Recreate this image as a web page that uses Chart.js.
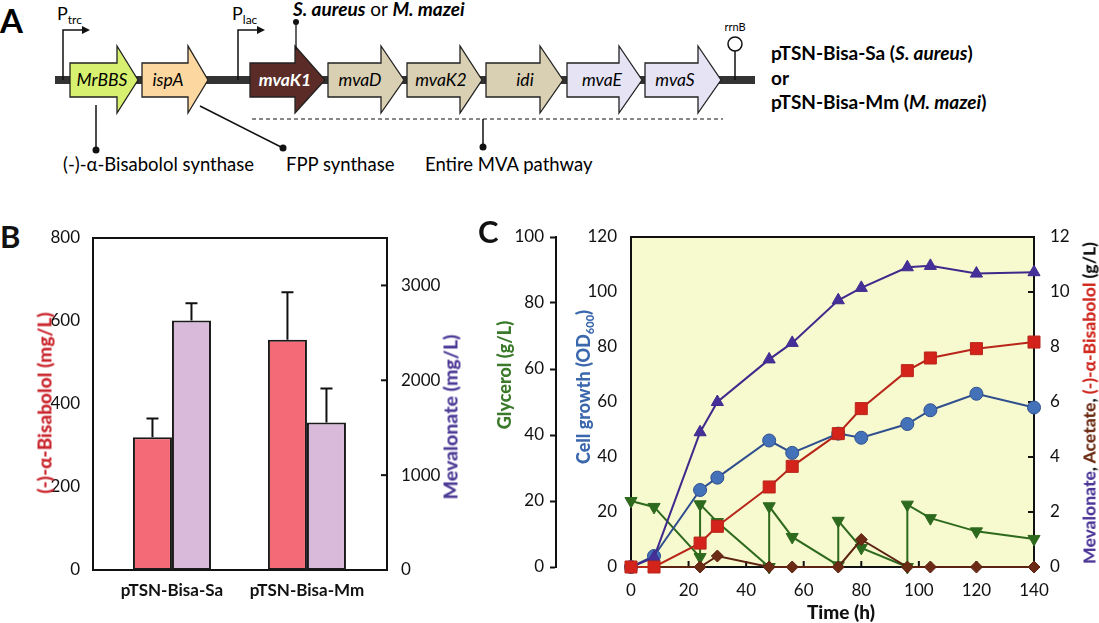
<!DOCTYPE html>
<html>
<head>
<meta charset="utf-8">
<script src="https://cdn.jsdelivr.net/npm/chart.js@4.4.1/dist/chart.umd.min.js"></script>
<style>
  body { margin: 0; background: #fff; }
  #page { position: relative; width: 1099px; height: 623px; overflow: hidden; font-family: Lato, "Noto Sans", sans-serif; color: #111; }
  .abs { position: absolute; }
  .panel { font-weight: bold; font-size: 31px; line-height: 1; }
  .vt { position: absolute; white-space: nowrap; font-weight: 900; font-size: 18px; transform: translate(-50%, -50%) rotate(-90deg); }
  .vt sub { font-size: 11px; }
  svg text { font-family: Lato, "Noto Sans", sans-serif; }
</style>
</head>
<body>
<div id="page">
  <!-- panel A: construct map -->
  <svg class="abs" style="left:0;top:0" width="1099" height="200">
    <text x="0" y="33" font-size="33" font-weight="bold">A</text>
    <rect x="55" y="76" width="700" height="8" fill="#333"/>
    <!-- promoters -->
    <polyline points="63,80 63,30 84,30" fill="none" stroke="#111" stroke-width="1.5"/>
    <polygon points="90,30 82,26 82,34" fill="#111"/>
    <text x="57" y="20" font-size="18">P<tspan font-size="12" dy="4">trc</tspan></text>
    <polyline points="238,80 238,30 259,30" fill="none" stroke="#111" stroke-width="1.5"/>
    <polygon points="265,30 257,26 257,34" fill="#111"/>
    <text x="232" y="20" font-size="18">P<tspan font-size="12" dy="4">lac</tspan></text>
    <!-- genes -->
    <g stroke="#222" stroke-width="1.3">
      <polygon points="70,63 117,63 117,46 138,80 117,113 117,97 70,97" fill="#d8f06f"/>
      <polygon points="142,63 188,63 188,46 208,80 188,113 188,97 142,97" fill="#fdd7a0"/>
      <polygon points="250,63 295,63 295,46 325,80 295,113 295,97 250,97" fill="#5a2b27"/>
      <polygon points="328,63 381,63 381,46 404,80 381,113 381,97 328,97" fill="#d9cfb3"/>
      <polygon points="407,63 460,63 460,46 482,80 460,113 460,97 407,97" fill="#d9cfb3"/>
      <polygon points="486,63 540,63 540,46 563,80 540,113 540,97 486,97" fill="#d9cfb3"/>
      <polygon points="567,63 619,63 619,46 642,80 619,113 619,97 567,97" fill="#e6e3f4"/>
      <polygon points="645,63 698,63 698,46 721,80 698,113 698,97 645,97" fill="#e6e3f4"/>
    </g>
    <g font-size="17.5" font-style="italic" text-anchor="middle">
      <text x="102" y="86">MrBBS</text>
      <text x="168" y="86">ispA</text>
      <text x="285" y="86" font-weight="bold" fill="#fff">mvaK1</text>
      <text x="360" y="86">mvaD</text>
      <text x="441" y="86">mvaK2</text>
      <text x="525" y="86">idi</text>
      <text x="602" y="86">mvaE</text>
      <text x="675" y="86">mvaS</text>
    </g>
    <!-- terminator -->
    <line x1="735" y1="51" x2="735" y2="80" stroke="#111" stroke-width="1.5"/>
    <circle cx="735" cy="44" r="7" fill="#fff" stroke="#111" stroke-width="1.5"/>
    <text x="735" y="31" font-size="11" text-anchor="middle">rrnB</text>
    <!-- annotations -->
    <text x="293" y="16" font-size="19"><tspan font-weight="bold" font-style="italic">S. aureus</tspan> or <tspan font-weight="bold" font-style="italic">M. mazei</tspan></text>
    <line x1="296" y1="22" x2="296" y2="50" stroke="#111" stroke-width="1.3"/>
    <circle cx="296" cy="22" r="3" fill="#111"/>
    <line x1="96" y1="105" x2="96" y2="150" stroke="#111" stroke-width="1.5"/>
    <circle cx="96" cy="150" r="3.5" fill="#111"/>
    <line x1="200" y1="106" x2="283" y2="148" stroke="#111" stroke-width="1.5"/>
    <circle cx="283" cy="148" r="3.5" fill="#111"/>
    <line x1="252" y1="119" x2="723" y2="119" stroke="#111" stroke-width="1" stroke-dasharray="4 3"/>
    <line x1="483" y1="119" x2="483" y2="147" stroke="#111" stroke-width="1.5"/>
    <circle cx="483" cy="147" r="3.5" fill="#111"/>
    <g font-size="18.5">
      <text x="63" y="171">(-)-α-Bisabolol synthase</text>
      <text x="286" y="171">FPP synthase</text>
      <text x="425" y="171">Entire MVA pathway</text>
    </g>
    <g font-size="19" font-weight="bold">
      <text x="771" y="60">pTSN-Bisa-Sa (<tspan font-style="italic">S. aureus</tspan>)</text>
      <text x="771" y="85">or</text>
      <text x="771" y="109">pTSN-Bisa-Mm (<tspan font-style="italic">M. mazei</tspan>)</text>
    </g>
  </svg>

  <!-- panel B -->
  <div class="abs panel" style="left:0;top:221px">B</div>
  <canvas id="chartB" class="abs" style="left:0;top:200px" width="480" height="423"></canvas>
  <div class="vt" style="left:44px;top:403px;color:#c9252c;font-size:19px">(-)-α-Bisabolol (mg/L)</div>
  <div class="vt" style="left:450px;top:417px;color:#4d3a96;font-size:19.5px">Mevalonate (mg/L)</div>

  <!-- panel C -->
  <div class="abs panel" style="left:478px;top:216px">C</div>
  <canvas id="chartC" class="abs" style="left:470px;top:200px" width="629" height="423"></canvas>
  <div class="vt" style="left:504px;top:375px;color:#3a7a2a">Glycerol (g/L)</div>
  <div class="vt" style="left:584px;top:387px;color:#3b67ad">Cell growth (OD<sub>600</sub>)</div>
  <div class="vt" style="left:1089px;top:403px;font-size:17.5px"><span style="color:#4b3596">Mevalonate</span>, <span style="color:#6b2a12">Acetate</span>, <span style="color:#d0281e">(-)-α-Bisabolol</span> (g/L)</div>
  <div class="abs" style="left:841px;top:611px;transform:translate(-50%,-50%);font-weight:900;font-size:19px">Time (h)</div>
</div>

<script>
// ---- panel B data ----
const barLabels = ['pTSN-Bisa-Sa', 'pTSN-Bisa-Mm'];
const bisabolol = [320, 555];          // mg/L
const bisabololErr = [45, 114];
const mevalonate = [2630, 1555];       // mg/L
const mevalonateErr = [182, 358];
const mevTicksB = [0, 1000, 2000, 3000];

// ---- panel C data ----
const timeH = [0, 8, 24, 30, 48, 56, 72, 80, 96, 104, 120, 140];
const cellGrowth = [0, 4, 28, 32.5, 46, 41.5, 48.5, 47, 52, 57, 63, 58];           // OD600
const mevalonateGL = [0, 0.35, 4.9, 6.0, 7.55, 8.15, 9.7, 10.15, 10.9, 10.95, 10.67, 10.72];
const bisabololGL = [0, 0, 0.87, 1.48, 2.91, 3.66, 4.85, 5.76, 7.14, 7.6, 7.94, 8.18];
const acetateGL = [0, 0, 0, 0.4, 0, 0, 0, 1.0, 0, 0, 0, 0];
// glycerol is fed, so the feeding times appear twice (before / after feed)
const glycerolTime = [0, 8, 24, 24, 30, 48, 48, 56, 72, 72, 80, 96, 96, 104, 120, 140];
const glycerolGL = [20, 18.2, 3, 19, 13.6, 0, 18.4, 9.1, 0.5, 14, 5.8, 0, 18.9, 14.8, 10.8, 8.5];

Chart.defaults.font.family = 'Lato, "Noto Sans", sans-serif';
Chart.defaults.font.size = 17;
Chart.defaults.color = '#111';
Chart.defaults.animation = false;
Chart.defaults.plugins.legend.display = false;
Chart.defaults.plugins.tooltip.enabled = false;

const pts = (xs, ys) => xs.map((x, i) => ({x: x, y: ys[i]}));

// box around the plot area + inward tick marks
const frame = {
  id: 'frame',
  beforeDraw(chart, args, opts) {
    if (!opts.bg) return;
    const a = chart.chartArea;
    chart.ctx.fillStyle = opts.bg;
    chart.ctx.fillRect(a.left, a.top, a.width, a.height);
  },
  beforeDatasetsDraw(chart, args, opts) {
    const {ctx, chartArea: a} = chart;
    ctx.save();
    ctx.strokeStyle = '#111';
    ctx.lineWidth = 2;
    (opts.inward || []).forEach(id => {
      const s = chart.scales[id];
      s.ticks.forEach(t => {
        const p = s.getPixelForValue(t.value);
        ctx.beginPath();
        if (s.isHorizontal()) { ctx.moveTo(p, a.bottom); ctx.lineTo(p, a.bottom - 6); }
        else if (s.position === 'right') { ctx.moveTo(a.right, p); ctx.lineTo(a.right - 6, p); }
        else { ctx.moveTo(a.left, p); ctx.lineTo(a.left + 6, p); }
        ctx.stroke();
      });
    });
    ctx.strokeRect(a.left, a.top, a.width, a.height);
    ctx.restore();
  }
};

// upper error bars for panel B
const errorBars = {
  id: 'errorBars',
  afterDatasetsDraw(chart) {
    const ctx = chart.ctx;
    ctx.save();
    ctx.strokeStyle = '#111';
    ctx.lineWidth = 2;
    chart.data.datasets.forEach((ds, di) => {
      const meta = chart.getDatasetMeta(di);
      const ys = chart.scales[ds.yAxisID];
      meta.data.forEach((bar, i) => {
        const top = ys.getPixelForValue(ds.data[i].y + ds.err[i]);
        ctx.beginPath();
        ctx.moveTo(bar.x, bar.y);
        ctx.lineTo(bar.x, top);
        ctx.moveTo(bar.x - 6, top);
        ctx.lineTo(bar.x + 6, top);
        ctx.stroke();
      });
    });
    ctx.restore();
  }
};

new Chart(document.getElementById('chartB'), {
  type: 'bar',
  data: {
    datasets: [
      {
        data: pts([0, 1], bisabolol), err: bisabololErr, yAxisID: 'y',
        backgroundColor: '#f56a77', borderColor: '#1a1a1a', borderWidth: 2, borderSkipped: false
      },
      {
        data: pts([0, 1], mevalonate), err: mevalonateErr, yAxisID: 'y1',
        backgroundColor: '#d9badb', borderColor: '#1a1a1a', borderWidth: 2, borderSkipped: false
      }
    ]
  },
  options: {
    responsive: false,
    devicePixelRatio: 1,
    categoryPercentage: 0.578,
    barPercentage: 1,
    layout: {padding: {top: 38, left: 0, right: 0, bottom: 0}},
    plugins: {frame: {inward: ['y1']}},
    scales: {
      x: {
        type: 'linear', min: -0.585, max: 1.593, offset: false,
        grid: {display: false}, border: {display: false},
        afterBuildTicks: s => { s.ticks = barLabels.map((l, i) => ({value: i})); },
        afterFit: s => { s.height = 53; },
        ticks: {padding: 2, font: {size: 17, weight: 'bold'}, callback: v => barLabels[v]}
      },
      y: {
        position: 'left', min: 0, max: 800,
        grid: {display: false}, border: {display: false},
        ticks: {stepSize: 200, padding: 5},
        afterFit: s => { s.width = 93; }
      },
      y1: {
        position: 'right', min: 0, max: 3500,
        grid: {display: false}, border: {display: false},
        ticks: {padding: 6, autoSkip: false, callback: v => String(v)},
        afterBuildTicks: s => { s.ticks = mevTicksB.map(v => ({value: v})); },
        afterFit: s => { s.width = 93; }
      }
    }
  },
  plugins: [frame, errorBars]
});

const lineSet = (data, axis, color, fill, style, radius, extra) => Object.assign({
  data: data, yAxisID: axis, borderColor: color, borderWidth: 2,
  pointStyle: style, pointRadius: radius, pointBackgroundColor: fill,
  pointBorderColor: color, pointBorderWidth: 1, clip: false, tension: 0
}, extra || {});

new Chart(document.getElementById('chartC'), {
  type: 'line',
  data: {
    datasets: [
      lineSet(pts(timeH, bisabololGL), 'yR', '#b8261a', '#d3231a', 'rect', 8.5),
      lineSet(pts(timeH, acetateGL), 'yR', '#5c2312', '#6a2a14', 'rectRot', 6),
      lineSet(pts(timeH, mevalonateGL), 'yR', '#3f2a8c', '#45309a', 'triangle', 7),
      lineSet(pts(timeH, cellGrowth), 'yCell', '#2f4f8f', '#4472b8', 'circle', 6.5),
      lineSet(pts(glycerolTime, glycerolGL), 'yGly', '#2e6a1e', '#2e6a1e', 'triangle', 7, {pointRotation: 180})
    ]
  },
  options: {
    responsive: false,
    devicePixelRatio: 1,
    layout: {padding: {top: 37, left: 0, right: 0, bottom: 0}},
    plugins: {frame: {bg: '#f7f9cf', inward: ['x', 'yR']}},
    scales: {
      x: {
        type: 'linear', min: 0, max: 140,
        grid: {display: false}, border: {display: false},
        ticks: {stepSize: 20, padding: 5},
        afterFit: s => { s.height = 56; }
      },
      yGly: {
        position: 'left', weight: 1, min: 0, max: 100,
        grid: {display: true, drawOnChartArea: false, tickLength: 6, tickWidth: 2, tickColor: '#111'},
        border: {display: true, width: 2, color: '#111'},
        ticks: {stepSize: 20, padding: 6},
        afterFit: s => { s.width = 86; }
      },
      yCell: {
        position: 'left', weight: 0, min: 0, max: 120,
        grid: {display: false}, border: {display: false},
        ticks: {stepSize: 20, padding: 6},
        afterFit: s => { s.width = 75; }
      },
      yR: {
        position: 'right', min: 0, max: 12,
        grid: {display: false}, border: {display: false},
        ticks: {stepSize: 2, padding: 8},
        afterFit: s => { s.width = 65; }
      }
    }
  },
  plugins: [frame]
});
</script>
</body>
</html>
